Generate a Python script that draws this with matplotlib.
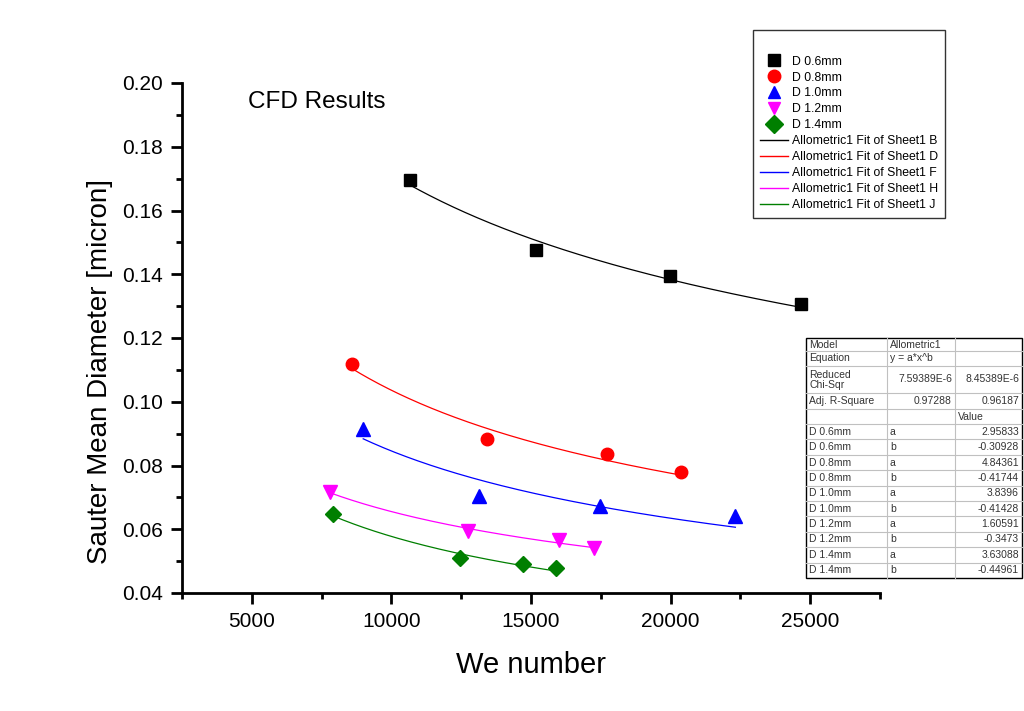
import numpy as np
import matplotlib
matplotlib.use("Agg")
import matplotlib.pyplot as plt
from matplotlib.ticker import MultipleLocator, FormatStrFormatter
from matplotlib.lines import Line2D
from matplotlib.patches import Rectangle

plt.rcParams['font.family'] = ['Liberation Sans', 'DejaVu Sans']

# ========================
# DATA
# ========================
labels = ["D 0.6mm", "D 0.8mm", "D 1.0mm", "D 1.2mm", "D 1.4mm"]
fit_labels = ["Allometric1 Fit of Sheet1 B", "Allometric1 Fit of Sheet1 D",
              "Allometric1 Fit of Sheet1 F", "Allometric1 Fit of Sheet1 H",
              "Allometric1 Fit of Sheet1 J"]

we_06 = [10670, 15190, 19990, 24680]
d_06 = [0.1696, 0.1476, 0.1394, 0.1307]

we_08 = [8600, 13430, 17730, 20380]
d_08 = [0.1118, 0.0883, 0.0836, 0.0780]

we_10 = [8990, 13150, 17480, 22320]
d_10 = [0.0915, 0.0704, 0.0673, 0.0642]

we_12 = [7810, 12730, 15990, 17250]
d_12 = [0.0716, 0.0595, 0.0566, 0.0540]

we_14 = [7920, 12470, 14720, 15890]
d_14 = [0.0648, 0.0509, 0.0491, 0.0477]

# allometric fit parameters y = a*x^b (from the table in the chart)
fit_a = [2.95833, 4.84361, 3.8396, 1.60591, 3.63088]
fit_b = [-0.30928, -0.41744, -0.41428, -0.3473, -0.44961]

# table text
tbl_header = [["Model", "Allometric1", ""],
              ["Equation", "y = a*x^b", ""],
              ["Reduced\nChi-Sqr", "7.59389E-6", "8.45389E-6"],
              ["Adj. R-Square", "0.97288", "0.96187"],
              ["", "", "Value"]]
tbl_rows = ["D 0.6mm", "D 0.6mm", "D 0.8mm", "D 0.8mm", "D 1.0mm",
            "D 1.0mm", "D 1.2mm", "D 1.2mm", "D 1.4mm", "D 1.4mm"]
tbl_params = ["a", "b"] * 5
tbl_values = ["2.95833", "-0.30928", "4.84361", "-0.41744", "3.8396",
              "-0.41428", "1.60591", "-0.3473", "3.63088", "-0.44961"]

colors = ["#000000", "#FF0000", "#0000FF", "#FF00FF", "#007F00"]
markers = ["s", "o", "^", "v", "D"]
sizes = [8, 9, 10, 10, 8]

# ========================
# PLOT
# ========================
W, H = 1024, 711
fig = plt.figure(figsize=(W / 100, H / 100), dpi=100)
ax = fig.add_axes([182 / W, 1 - 593 / H, (880 - 182) / W, (593 - 83) / H])

series = [(we_06, d_06), (we_08, d_08), (we_10, d_10), (we_12, d_12), (we_14, d_14)]

for (xs, ys), c, m, ms, a, b in zip(series, colors, markers, sizes, fit_a, fit_b):
    xx = np.linspace(min(xs), max(xs), 200)
    ax.plot(xx, a * xx ** b, color=c, lw=0.9, zorder=2)
    ax.plot(xs, ys, linestyle="none", marker=m, ms=ms, color=c,
            markeredgecolor=c, zorder=3)

ax.set_xlim(2500, 27500)
ax.set_ylim(0.04, 0.20)
ax.xaxis.set_major_locator(MultipleLocator(5000))
ax.xaxis.set_minor_locator(MultipleLocator(2500))
ax.yaxis.set_major_locator(MultipleLocator(0.02))
ax.yaxis.set_minor_locator(MultipleLocator(0.01))
ax.yaxis.set_major_formatter(FormatStrFormatter('%.2f'))

for side in ["top", "right"]:
    ax.spines[side].set_visible(False)
for side in ["left", "bottom"]:
    ax.spines[side].set_linewidth(2)

ax.tick_params(which="major", direction="out", length=8, width=2, labelsize=15, pad=6)
ax.tick_params(which="minor", direction="out", length=4, width=2)

ax.set_xlabel("We number", fontsize=21, labelpad=14)
ax.set_ylabel("Sauter Mean Diameter [micron]", fontsize=20)
ax.yaxis.set_label_coords(-0.099, 0.435)

ax.text(0.095, 0.985, "CFD Results", transform=ax.transAxes, fontsize=17.5,
        ha="left", va="top")

# legend
handles = []
for c, m, lab in zip(colors, markers, labels):
    handles.append(Line2D([], [], linestyle="none", marker=m, ms=9, color=c, label=lab))
for c, lab in zip(colors, fit_labels):
    handles.append(Line2D([], [], color=c, lw=1, label=lab))

leg = fig.legend(handles=handles, loc="upper left",
                 bbox_to_anchor=(753 / W, 1 - 30 / H), borderaxespad=0,
                 fontsize=8.8, frameon=True, fancybox=False, edgecolor="black",
                 handlelength=2.3, handletextpad=0.35, labelspacing=0.32,
                 borderpad=0.55, title=" ", title_fontsize=12.5)
leg.get_frame().set_linewidth(1)


# table (drawn in figure pixel coordinates)
def fx(px):
    return px / W


def fy(py):
    return 1 - py / H


col_x = [806, 887, 955, 1022]
row_y = [338, 351, 366, 393, 409, 424]
step = (578 - 424) / len(tbl_rows)
for i in range(len(tbl_rows)):
    row_y.append(424 + step * (i + 1))

fig.patches.append(Rectangle((fx(col_x[0]), fy(row_y[-1])),
                             fx(col_x[-1]) - fx(col_x[0]), fy(row_y[0]) - fy(row_y[-1]),
                             transform=fig.transFigure, fill=True, facecolor="white",
                             edgecolor="black", lw=1, zorder=5))
for y in row_y[1:-1]:
    fig.add_artist(Line2D([fx(col_x[0]), fx(col_x[-1])], [fy(y), fy(y)],
                          transform=fig.transFigure, color="#c0c0c0", lw=0.8, zorder=6))
for x in col_x[1:-1]:
    fig.add_artist(Line2D([fx(x), fx(x)], [fy(row_y[0]), fy(row_y[-1])],
                          transform=fig.transFigure, color="#c0c0c0", lw=0.8, zorder=6))

tcol = "#333333"
tfs = 7.5
all_rows = tbl_header + [[r, p, v] for r, p, v in zip(tbl_rows, tbl_params, tbl_values)]
for i, row in enumerate(all_rows):
    yc = fy((row_y[i] + row_y[i + 1]) / 2)
    for j, txt in enumerate(row):
        if not txt:
            continue
        right = (i >= 2 and j >= 1 and i != 4) and not (i >= 5 and j == 1)
        if right:
            fig.text(fx(col_x[j + 1] - 3), yc, txt, ha="right", va="center",
                     fontsize=tfs, color=tcol, zorder=7)
        else:
            fig.text(fx(col_x[j] + 3), yc, txt, ha="left", va="center",
                     fontsize=tfs, color=tcol, zorder=7, linespacing=1.0)

fig.savefig("out.png", dpi=100)
